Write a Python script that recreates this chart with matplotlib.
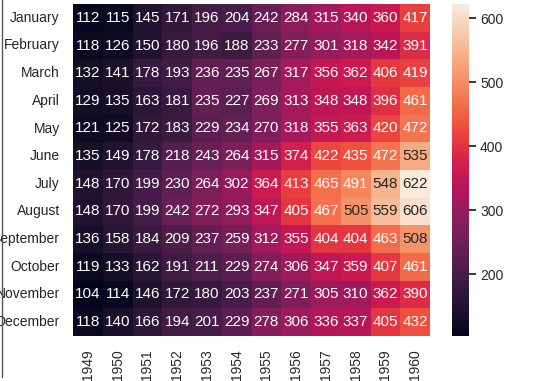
import matplotlib
matplotlib.use("Agg")
import matplotlib.pyplot as plt
import seaborn as sns
import pandas as pd
from matplotlib.lines import Line2D

months = ["January", "February", "March", "April", "May", "June", "July",
          "August", "September", "October", "November", "December"]
years = [1949, 1950, 1951, 1952, 1953, 1954, 1955, 1956, 1957, 1958, 1959, 1960]

p1949 = [112, 118, 132, 129, 121, 135, 148, 148, 136, 119, 104, 118]
p1950 = [115, 126, 141, 135, 125, 149, 170, 170, 158, 133, 114, 140]
p1951 = [145, 150, 178, 163, 172, 178, 199, 199, 184, 162, 146, 166]
p1952 = [171, 180, 193, 181, 183, 218, 230, 242, 209, 191, 172, 194]
p1953 = [196, 196, 236, 235, 229, 243, 264, 272, 237, 211, 180, 201]
p1954 = [204, 188, 235, 227, 234, 264, 302, 293, 259, 229, 203, 229]
p1955 = [242, 233, 267, 269, 270, 315, 364, 347, 312, 274, 237, 278]
p1956 = [284, 277, 317, 313, 318, 374, 413, 405, 355, 306, 271, 306]
p1957 = [315, 301, 356, 348, 355, 422, 465, 467, 404, 347, 305, 336]
p1958 = [340, 318, 362, 348, 363, 435, 491, 505, 404, 359, 310, 337]
p1959 = [360, 342, 406, 396, 420, 472, 548, 559, 463, 407, 362, 405]
p1960 = [417, 391, 419, 461, 472, 535, 622, 606, 508, 461, 390, 432]

cols = [p1949, p1950, p1951, p1952, p1953, p1954, p1955, p1956, p1957, p1958, p1959, p1960]
df = pd.DataFrame({y: c for y, c in zip(years, cols)}, index=months)

sns.set_theme(style="white")
plt.rcParams['font.family'] = ['Liberation Sans', 'DejaVu Sans']
FS = 10
AFS = 11

fig = plt.figure(figsize=(5.48, 3.81), dpi=100)
ax = fig.add_axes([73/548, 1-336/381, 357/548, 332/381])
cax = fig.add_axes([452/548, 1-336/381, 17/548, 332/381])

sns.heatmap(df, annot=True, fmt="d", ax=ax, cbar_ax=cax,
            annot_kws={"fontsize": AFS})

ax.set_xlabel("")
ax.set_ylabel("")
ax.tick_params(axis="both", length=0, pad=9.5, labelsize=FS, colors="#262626")
plt.setp(ax.get_xticklabels(), rotation=90)
plt.setp(ax.get_yticklabels(), rotation=0)

cax.tick_params(axis="y", length=5, width=1.3, pad=3, labelsize=FS, colors="#262626")
cax.set_yticks([200, 300, 400, 500, 600])

fig.add_artist(Line2D([1.5/548, 1.5/548], [1-377/381, 1.0], transform=fig.transFigure,
                      color="#555555", linewidth=1.0))

fig.savefig("out.png", dpi=100)
